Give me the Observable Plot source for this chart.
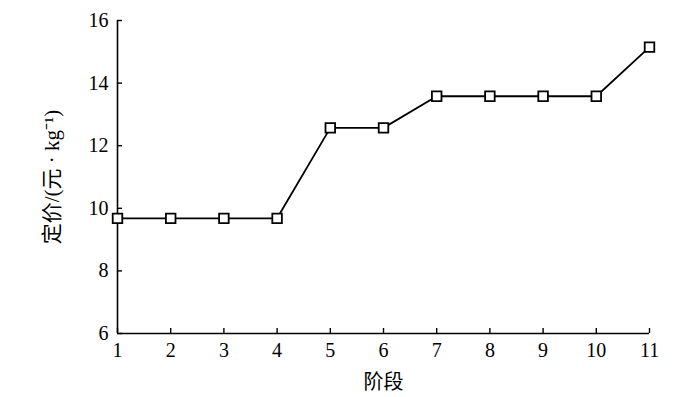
<!DOCTYPE html>
<html><head><meta charset="utf-8">
<script src="https://cdn.jsdelivr.net/npm/d3@7"></script>
<script src="https://cdn.jsdelivr.net/npm/@observablehq/plot@0.6"></script>
<style>body{margin:0;background:#fff}</style>
</head><body><div id="chart"></div>
<script>
const stages = [1,2,3,4,5,6,7,8,9,10,11];
const prices = [9.68,9.68,9.68,9.68,12.57,12.57,13.58,13.58,13.58,13.58,15.15];
const xTicks = [1,2,3,4,5,6,7,8,9,10,11];
const yTicks = [6,8,10,12,14,16];
const xLabel = "阶段";
const yLabel = "定价/(元 · kg⁻¹)";
const data = stages.map((s,i)=>({stage:s, price:prices[i]}));

const chart = Plot.plot({
  width: 700, height: 397,
  marginLeft: 117, marginRight: 51, marginTop: 20, marginBottom: 64,
  style: {fontFamily: "'Liberation Serif','Noto Sans CJK SC',serif", fontSize: "20px", color:"#000", background:"#fff"},
  x: {domain: [1,11]},
  y: {domain: [6,16]},
  marks: [
    Plot.axisX({ticks: xTicks, tickSize: -5, tickPadding: 14, tickFormat: d=>String(d), label: null, strokeWidth: 1.4}),
    Plot.axisY({ticks: yTicks, tickSize: -5, tickPadding: 14, tickFormat: d=>String(d), label: null, strokeWidth: 1.4}),
    Plot.ruleX([1], {stroke:"#000", strokeWidth:1.6}),
    Plot.ruleY([6], {stroke:"#000", strokeWidth:1.6}),
    Plot.line(data, {x:"stage", y:"price", stroke:"#000", strokeWidth:1.8}),
    Plot.dot(data, {x:"stage", y:"price", symbol:"square", r:5.4, fill:"#fff", stroke:"#000", strokeWidth:1.8}),
    Plot.text([xLabel], {frameAnchor:"bottom", dy: 55, text: d=>d, fontFamily:"'Noto Sans CJK SC',sans-serif", fontSize:20}),
    Plot.text([yLabel], {frameAnchor:"left", textAnchor:"middle", dx: -65, rotate:-90, text: d=>d, fontSize:21})
  ]
});
document.getElementById("chart").append(chart);
</script></body></html>
